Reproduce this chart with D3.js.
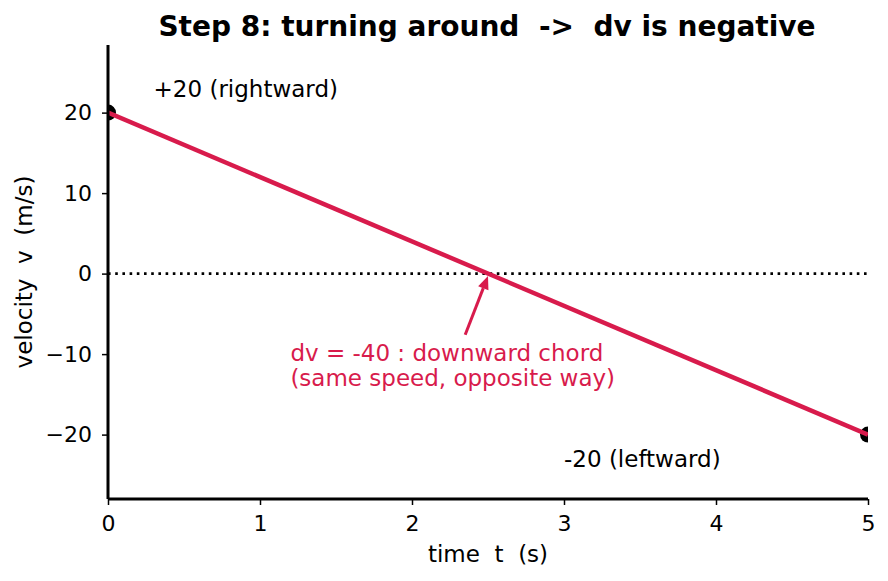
<!DOCTYPE html>
<html>
<head>
<meta charset="utf-8">
<script src="https://cdn.jsdelivr.net/npm/d3@7"></script>
<style>
  body { margin: 0; background: #fff; }
  svg { display: block; font-family: "DejaVu Sans", sans-serif; }
</style>
</head>
<body>
<div id="chart"></div>
<script>
(function () {
  "use strict";

  // chord end points (t, v)
  const times = [0, 5];
  const velocities = [20, -20];

  const xTicks = [0, 1, 2, 3, 4, 5];
  const yTicks = [-20, -10, 0, 10, 20];

  // labels placed in data units
  const notes = [
    { t: 0.3, v: 22, text: "+20 (rightward)" },
    { t: 3.0, v: -24, text: "-20 (leftward)" },
  ];
  const chordNote = ["dv = -40 : downward chord", "(same speed, opposite way)"];
  const chordNoteAt = { t: 1.2, v: -10.8 };
  const arrowFrom = { t: 2.35, v: -7.6 };
  const arrowTo = { t: 2.5, v: -0.3 };

  const RED = "#d81b4c";
  const w = 888, h = 581;
  const m = { left: 108, right: 20, top: 45, bottom: 82 };

  const svg = d3.select("#chart").append("svg")
    .attr("width", w).attr("height", h);

  const x = d3.scaleLinear().domain([0, 5]).range([m.left, w - m.right]);
  const y = d3.scaleLinear().domain([-28, 28.4]).range([h - m.bottom, m.top]);

  svg.append("defs").append("clipPath").attr("id", "plot")
    .append("rect")
    .attr("x", m.left).attr("y", m.top)
    .attr("width", w - m.left - m.right).attr("height", h - m.top - m.bottom);

  // Zero reference line
  svg.append("line")
    .attr("x1", x(0)).attr("x2", x(5))
    .attr("y1", y(0)).attr("y2", y(0))
    .attr("stroke", "#000").attr("stroke-width", 2.6)
    .attr("stroke-dasharray", "2.6,4.6");

  const plot = svg.append("g").attr("clip-path", "url(#plot)");
  const pts = times.map((t, i) => [t, velocities[i]]);

  plot.selectAll("circle.end")
    .data(pts).enter().append("circle")
    .attr("class", "end")
    .attr("cx", (d) => x(d[0])).attr("cy", (d) => y(d[1]))
    .attr("r", 8).attr("fill", "#000");

  // chord line sits on top of the end markers
  plot.append("path")
    .datum(pts)
    .attr("d", d3.line().x((d) => x(d[0])).y((d) => y(d[1])))
    .attr("fill", "none").attr("stroke", RED).attr("stroke-width", 4.5);

  // Axes
  const xAxis = svg.append("g")
    .attr("transform", `translate(0,${h - m.bottom})`)
    .call(d3.axisBottom(x).tickValues(xTicks).tickSize(6).tickPadding(10).tickFormat(d3.format("d")));
  const yAxis = svg.append("g")
    .attr("transform", `translate(${m.left},0)`)
    .call(d3.axisLeft(y).tickValues(yTicks).tickSize(6).tickPadding(10)
      .tickFormat((d) => (d < 0 ? "\u2212" + Math.abs(d) : String(d))));

  [xAxis, yAxis].forEach((g) => {
    g.select(".domain").attr("stroke", "#000").attr("stroke-width", 3);
    g.selectAll(".tick line").attr("stroke", "#000").attr("stroke-width", 1.5);
    g.selectAll(".tick text").attr("fill", "#000").attr("font-size", "22px")
      .attr("font-family", "DejaVu Sans");
  });
  xAxis.select(".domain").attr("d", `M${x(0)},0H${x(5)}`);
  yAxis.select(".domain").attr("d", `M0,${y(28.4)}V${y(-28)}`);

  // Axis labels
  svg.append("text")
    .attr("x", (x(0) + x(5)) / 2).attr("y", 562)
    .attr("text-anchor", "middle").attr("font-size", "23px")
    .style("white-space", "pre")
    .text("time  t  (s)");

  svg.append("text")
    .attr("transform", `translate(32,${(y(28.4) + y(-28)) / 2}) rotate(-90)`)
    .attr("text-anchor", "middle").attr("font-size", "23px")
    .style("white-space", "pre")
    .text("velocity  v  (m/s)");

  // Title
  svg.append("text")
    .attr("x", (x(0) + x(5)) / 2 - 1).attr("y", 36)
    .attr("text-anchor", "middle").attr("font-size", "28px").attr("font-weight", "bold")
    .style("white-space", "pre")
    .text("Step 8: turning around  ->  dv is negative");

  // End point notes
  svg.selectAll("text.note")
    .data(notes).enter().append("text")
    .attr("class", "note")
    .attr("x", (d) => x(d.t)).attr("y", (d) => y(d.v))
    .attr("font-size", "23px").attr("fill", "#000")
    .text((d) => d.text);

  // Chord annotation
  const ann = svg.append("text")
    .attr("x", x(chordNoteAt.t)).attr("y", y(chordNoteAt.v))
    .attr("font-size", "23px").attr("fill", RED);
  chordNote.forEach((line, i) => {
    ann.append("tspan").attr("x", x(chordNoteAt.t)).attr("dy", i === 0 ? 0 : 25).text(line);
  });

  // Arrow
  const x1 = x(arrowFrom.t), y1 = y(arrowFrom.v), x2 = x(arrowTo.t), y2 = y(arrowTo.v);
  const ang = Math.atan2(y2 - y1, x2 - x1);
  const hl = 13, hw = 5.5;
  const bx = x2 - hl * Math.cos(ang), by = y2 - hl * Math.sin(ang);
  svg.append("line")
    .attr("x1", x1).attr("y1", y1).attr("x2", bx).attr("y2", by)
    .attr("stroke", RED).attr("stroke-width", 3);
  svg.append("path")
    .attr("d", `M${x2},${y2}L${bx + hw * Math.sin(ang)},${by - hw * Math.cos(ang)}L${bx - hw * Math.sin(ang)},${by + hw * Math.cos(ang)}Z`)
    .attr("fill", RED);
})();
</script>
</body>
</html>
